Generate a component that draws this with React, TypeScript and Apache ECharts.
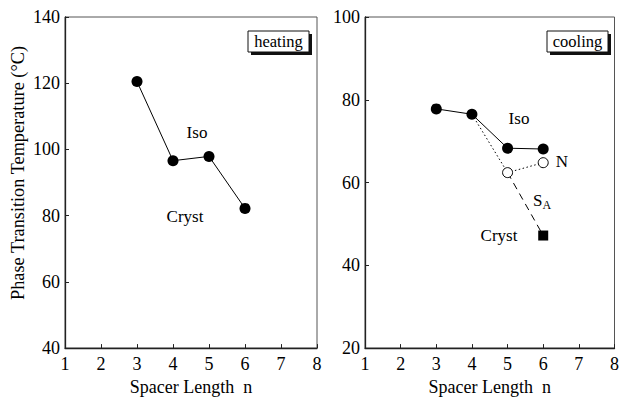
import React, { useEffect, useRef } from "react";
import * as echarts from "echarts";

// ---- data ----
const spacerN = [3, 4, 5, 6];
const heatingIsoT = [120.5, 96.6, 97.9, 82.2];
const coolingIsoT = [77.8, 76.5, 68.3, 68.1];
const nematicN = [4, 5, 6];
const nematicT = [76.5, 62.4, 64.8];
const smecticN = [5, 6];
const smecticT = [62.4, 47.2];

const xTicks = [1, 2, 3, 4, 5, 6, 7, 8];
const heatingYTicks = [40, 60, 80, 100, 120, 140];
const coolingYTicks = [20, 40, 60, 80, 100];

const FONT = "Liberation Serif";
const INK = "#000";

export default function App() {
  const ref = useRef<HTMLDivElement>(null);

  useEffect(() => {
    if (!ref.current) return;
    const chart = echarts.init(ref.current, undefined, { renderer: "svg" });

    const axisCommon = {
      axisLine: { show: true, lineStyle: { color: "#222", width: 1.3 } },
      axisTick: { show: true, inside: true, length: 4, lineStyle: { color: "#222", width: 1 } },
      splitLine: { show: false },
      axisLabel: { color: INK, fontFamily: FONT, fontSize: 18 },
    };

    const xAxis = (gridIndex: number) => ({
      ...axisCommon,
      type: "value",
      gridIndex,
      min: xTicks[0],
      max: xTicks[xTicks.length - 1],
      interval: 1,
      name: "Spacer Length  n",
      nameLocation: "middle",
      nameGap: 25,
      nameTextStyle: { color: INK, fontFamily: FONT, fontSize: 18 },
      axisLabel: { ...axisCommon.axisLabel, margin: 7 },
    });

    const yAxis = (gridIndex: number, ticks: number[]) => ({
      ...axisCommon,
      type: "value",
      gridIndex,
      min: ticks[0],
      max: ticks[ticks.length - 1],
      interval: 20,
      axisLabel: { ...axisCommon.axisLabel, margin: 5 },
    });

    const filled = { symbol: "circle", symbolSize: 11, itemStyle: { color: INK } };

    const boxLabel = (x: number, text: string) => ({
      type: "group",
      x,
      y: 31,
      children: [
        { type: "rect", shape: { x: 3, y: 3, width: 61, height: 21 }, style: { fill: "#111" } },
        { type: "rect", shape: { x: 0, y: 0, width: 61, height: 21 }, style: { fill: "#fff", stroke: "#111", lineWidth: 1 } },
        {
          type: "text",
          x: 30.5,
          y: 10.5,
          style: { text, fontFamily: FONT, fontSize: 16.5, fill: INK, align: "center", verticalAlign: "middle" },
        },
      ],
    });

    const note = (x: number, y: number, text: string) => ({
      type: "text",
      x,
      y,
      style: { text, fontFamily: FONT, fontSize: 17, fill: INK, align: "center", verticalAlign: "middle" },
    });

    chart.setOption({
      animation: false,
      textStyle: { fontFamily: FONT },
      grid: [
        { left: 65, top: 17, width: 252, height: 338, show: true, borderColor: "#555", borderWidth: 1 },
        { left: 365, top: 17, width: 252, height: 338, show: true, borderColor: "#555", borderWidth: 1 },
      ],
      xAxis: [xAxis(0), xAxis(1)],
      yAxis: [yAxis(0, heatingYTicks), yAxis(1, coolingYTicks)],
      series: [
        {
          type: "line",
          xAxisIndex: 0,
          yAxisIndex: 0,
          data: spacerN.map((n, i) => [n, heatingIsoT[i]]),
          lineStyle: { color: INK, width: 1 },
          ...filled,
        },
        {
          type: "line",
          xAxisIndex: 1,
          yAxisIndex: 1,
          data: smecticN.map((n, i) => ({
            value: [n, smecticT[i]],
            symbol: i === 0 ? "none" : "rect",
            symbolSize: 10,
          })),
          lineStyle: { color: INK, width: 1, type: [7, 5] },
          itemStyle: { color: INK },
        },
        {
          type: "line",
          xAxisIndex: 1,
          yAxisIndex: 1,
          data: nematicN.map((n, i) => ({
            value: [n, nematicT[i]],
            symbol: i === 0 ? "none" : "circle",
            symbolSize: 10,
          })),
          showAllSymbol: true,
          lineStyle: { color: INK, width: 1, type: [1.5, 2.5] },
          itemStyle: { color: "#fff", borderColor: INK, borderWidth: 1 },
        },
        {
          type: "line",
          xAxisIndex: 1,
          yAxisIndex: 1,
          data: spacerN.map((n, i) => [n, coolingIsoT[i]]),
          lineStyle: { color: INK, width: 1 },
          ...filled,
        },
      ],
      graphic: [
        {
          type: "text",
          x: 18,
          y: 173,
          rotation: Math.PI / 2,
          style: {
            text: "Phase Transition Temperature (°C)",
            fontFamily: FONT,
            fontSize: 18.3,
            fill: INK,
            align: "center",
            verticalAlign: "middle",
          },
        },
        boxLabel(248, "heating"),
        boxLabel(547, "cooling"),
        note(197, 132, "Iso"),
        note(185, 216, "Cryst"),
        note(519, 118, "Iso"),
        note(562, 161, "N"),
        {
          type: "text",
          x: 542,
          y: 200,
          style: {
            text: "S{sub|A}",
            fontFamily: FONT,
            fontSize: 17,
            fill: INK,
            align: "center",
            verticalAlign: "middle",
            rich: { sub: { fontFamily: FONT, fontSize: 12, fill: INK, padding: [9, 0, 0, 0] } },
          },
        },
        note(499, 235, "Cryst"),
      ],
    });

    return () => chart.dispose();
  }, []);

  return (
    <div
      ref={ref}
      style={{ position: "fixed", left: 0, top: 0, width: 622, height: 401, background: "#fff" }}
    />
  );
}
